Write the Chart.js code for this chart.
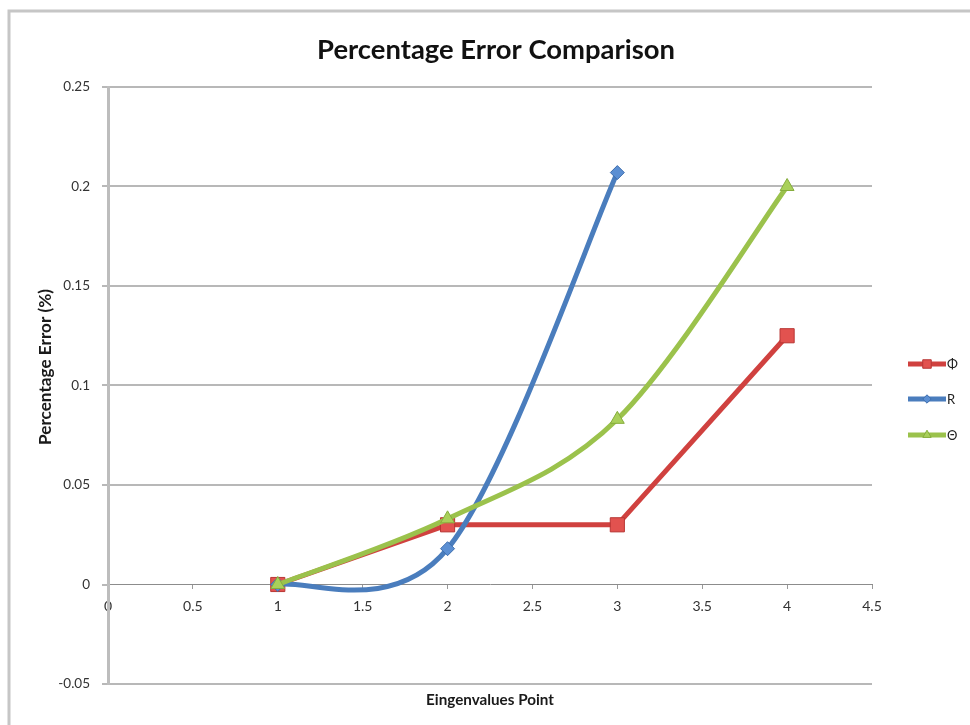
<!DOCTYPE html>
<html><head><meta charset="utf-8">
<script src="https://cdn.jsdelivr.net/npm/chart.js@4/dist/chart.umd.min.js"></script>
<style>html,body{margin:0;padding:0;background:#fff;}#wrap{width:970px;height:725px;position:relative;}</style>
</head><body><div id="wrap"><canvas id="c" width="970" height="725"></canvas></div>
<script>
const titleText = 'Percentage Error Comparison';
const xAxisTitle = 'Eingenvalues Point';
const yAxisTitle = 'Percentage Error (%)';
const seriesNames = ['Φ', 'R', 'Θ'];
const phiX = [1, 2, 3, 4];
const phiY = [0, 0.03, 0.03, 0.125];
const rX = [1, 2, 3];
const rY = [0, 0.018, 0.207];
const thetaX = [1, 2, 3, 4];
const thetaY = [0, 0.033, 0.083, 0.2];
const xTickValues = [0, 0.5, 1, 1.5, 2, 2.5, 3, 3.5, 4, 4.5];
const xTickLabels = ['0', '0.5', '1', '1.5', '2', '2.5', '3', '3.5', '4', '4.5'];
const yTickValues = [-0.05, 0, 0.05, 0.1, 0.15, 0.2, 0.25];
const yTickLabels = ['-0.05', '0', '0.05', '0.1', '0.15', '0.2', '0.25'];

const FONT = 'Lato, "Open Sans", sans-serif';
const pts = (xs, ys) => xs.map((x, i) => ({x: x, y: ys[i]}));

const styles = [
  {line: '#d0413f', fill: '#e2524f', border: '#b83634', pointStyle: 'rect', r: 10, smooth: false, order: 2},
  {line: '#4a7dbd', fill: '#5b8fd3', border: '#3f6fae', pointStyle: 'rectRot', r: 7, smooth: true, order: 1},
  {line: '#9bc24c', fill: '#a9d05a', border: '#86ad3d', pointStyle: 'triangle', r: 8, smooth: true, order: 0}
];
const seriesData = [pts(phiX, phiY), pts(rX, rY), pts(thetaX, thetaY)];

const datasets = seriesNames.map((n, i) => ({
  label: n,
  data: seriesData[i],
  showLine: true,
  borderColor: styles[i].line,
  borderWidth: 5,
  backgroundColor: styles[i].fill,
  pointBackgroundColor: styles[i].fill,
  pointBorderColor: styles[i].border,
  pointBorderWidth: 1,
  pointStyle: styles[i].pointStyle,
  pointRadius: styles[i].r,
  pointHoverRadius: styles[i].r,
  tension: styles[i].smooth ? 0.4 : 0,
  excelSmooth: styles[i].smooth,
  order: styles[i].order
}));

// Excel-like smoothing: Catmull-Rom control points (1/6 of neighbour chord) on the library's own pixel positions
const excelSmooth = {
  id: 'excelSmooth',
  beforeDatasetDraw(chart, args) {
    const ds = chart.data.datasets[args.index];
    if (!ds.excelSmooth) return;
    const meta = args.meta;
    const line = meta.dataset;
    if (line.updateControlPoints) line.updateControlPoints(chart.chartArea, 'x');
    const p = meta.data;
    const n = p.length;
    for (let i = 0; i < n; i++) {
      const prev = p[Math.max(0, i - 1)], next = p[Math.min(n - 1, i + 1)];
      const dx = (next.x - prev.x) / 6, dy = (next.y - prev.y) / 6;
      p[i].cp1x = p[i].x - dx; p[i].cp1y = p[i].y - dy;
      p[i].cp2x = p[i].x + dx; p[i].cp2y = p[i].y + dy;
    }
    line._path = undefined;
  }
};

function fitFont(ctx, text, weight, target) {
  ctx.font = weight + ' 20px ' + FONT;
  const w = ctx.measureText(text).width;
  return weight + ' ' + (20 * target / w).toFixed(2) + 'px ' + FONT;
}

const deco = {
  id: 'deco',
  beforeDraw(chart) {
    const ctx = chart.ctx;
    ctx.save();
    ctx.fillStyle = '#fff';
    ctx.fillRect(0, 0, chart.width, chart.height);
    ctx.strokeStyle = '#c6c6c6';
    ctx.lineWidth = 3;
    ctx.beginPath();
    ctx.moveTo(9, 725);
    ctx.lineTo(9, 11);
    ctx.lineTo(970, 11);
    ctx.stroke();
    ctx.restore();
  },
  afterDraw(chart) {
    const ctx = chart.ctx;
    ctx.save();
    ctx.fillStyle = '#111';
    ctx.textAlign = 'center';
    ctx.textBaseline = 'middle';
    ctx.font = fitFont(ctx, titleText, 'bold', 358);
    ctx.fillText(titleText, 496, 50);
    ctx.fillStyle = '#1a1a1a';
    ctx.font = fitFont(ctx, xAxisTitle, 'bold', 128);
    ctx.fillText(xAxisTitle, 490, 700);
    ctx.save();
    ctx.translate(45, 367);
    ctx.rotate(-Math.PI / 2);
    ctx.font = fitFont(ctx, yAxisTitle, 'bold', 156);
    ctx.fillText(yAxisTitle, 0, 0);
    ctx.restore();
    // legend
    const ly = [364, 399, 435];
    seriesNames.forEach((n, i) => {
      const s = styles[i];
      const y = ly[i];
      ctx.strokeStyle = s.line;
      ctx.lineWidth = 5;
      ctx.beginPath();
      ctx.moveTo(908, y);
      ctx.lineTo(946, y);
      ctx.stroke();
      ctx.fillStyle = s.fill;
      ctx.strokeStyle = s.border;
      ctx.lineWidth = 1;
      Chart.helpers.drawPoint(ctx, {pointStyle: s.pointStyle, radius: s.r * 0.6, borderWidth: 1}, 927, y);
      ctx.fillStyle = '#222';
      ctx.textAlign = 'left';
      ctx.font = '13px ' + FONT;
      ctx.fillText(n, 947, y + 1);
    });
    ctx.restore();
  }
};

new Chart(document.getElementById('c'), {
  type: 'scatter',
  data: {datasets: datasets},
  plugins: [excelSmooth, deco],
  options: {
    responsive: false,
    devicePixelRatio: 1,
    animation: false,
    layout: {padding: {left: 0, top: 87, right: 98, bottom: 41}},
    plugins: {legend: {display: false}, title: {display: false}, tooltip: {enabled: false}},
    scales: {
      x: {
        type: 'linear',
        min: 0, max: 4.5,
        position: {y: 0},
        afterBuildTicks: s => { s.ticks = xTickValues.map(v => ({value: v})); },
        ticks: {
          callback: (v) => xTickLabels[xTickValues.indexOf(v)],
          font: {family: FONT, size: 14}, color: '#333', padding: 10, maxRotation: 0, autoSkip: false
        },
        grid: {drawOnChartArea: false, tickLength: 4, color: '#9a9a9a', lineWidth: 1},
        border: {color: '#8c8c8c', width: 1}
      },
      y: {
        type: 'linear',
        min: -0.05, max: 0.25,
        afterBuildTicks: s => { s.ticks = yTickValues.map(v => ({value: v})); },
        afterFit: s => { s.width = 108; },
        ticks: {
          callback: (v) => { const i = yTickValues.findIndex(t => Math.abs(t - v) < 1e-9); return yTickLabels[i]; },
          font: {family: FONT, size: 13.5}, color: '#333', padding: 12
        },
        grid: {
          color: c => (c.tick && Math.abs(c.tick.value) < 1e-9) ? 'rgba(0,0,0,0)' : '#b8b8b8',
          tickColor: '#b8b8b8', lineWidth: 2, tickLength: 6
        },
        border: {color: '#bdbdbd', width: 3}
      }
    }
  }
});
</script></body></html>
